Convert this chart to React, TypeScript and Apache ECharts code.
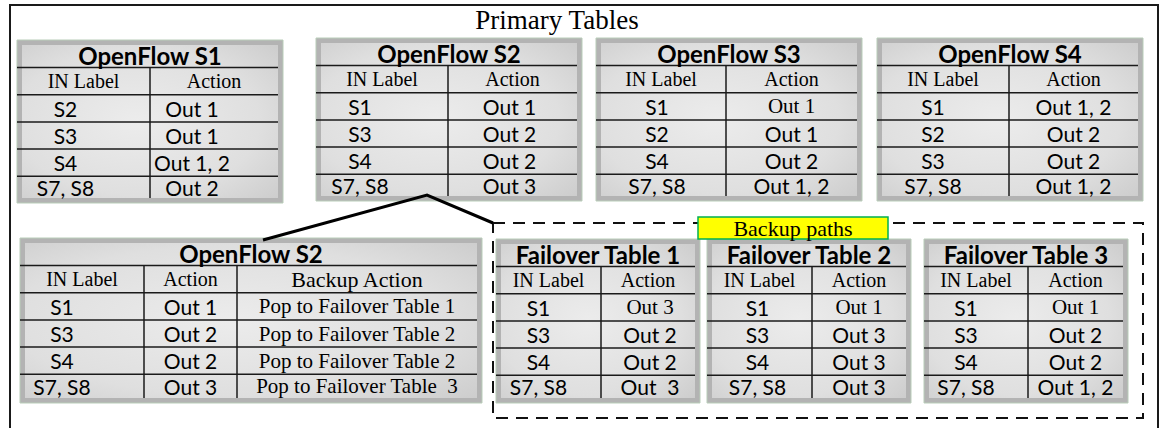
import React, { useEffect, useRef } from "react";
import * as echarts from "echarts";

// ---------- data ----------
const primaryTitle = "Primary Tables";
const backupTitle = "Backup paths";
const headerIn = "IN Label";
const headerAction = "Action";
const headerBackup = "Backup Action";

const s1Title = "OpenFlow S1";
const s1Labels = ["S2", "S3", "S4", "S7, S8"];
const s1Actions = ["Out 1", "Out 1", "Out 1, 2", "Out 2"];

const s2Title = "OpenFlow S2";
const s2Labels = ["S1", "S3", "S4", "S7, S8"];
const s2Actions = ["Out 1", "Out 2", "Out 2", "Out 3"];
const s2Backup = [
  "Pop to Failover Table 1",
  "Pop to Failover Table 2",
  "Pop to Failover Table 2",
  "Pop to Failover Table  3",
];

const s3Title = "OpenFlow S3";
const s3Labels = ["S1", "S2", "S4", "S7, S8"];
const s3Actions = ["Out 1", "Out 1", "Out 2", "Out 1, 2"];

const s4Title = "OpenFlow S4";
const s4Labels = ["S1", "S2", "S3", "S7, S8"];
const s4Actions = ["Out 1, 2", "Out 2", "Out 2", "Out 1, 2"];

const f1Title = "Failover Table 1";
const f1Labels = ["S1", "S3", "S4", "S7, S8"];
const f1Actions = ["Out 3", "Out 2", "Out 2", "Out  3"];

const f2Title = "Failover Table 2";
const f2Labels = ["S1", "S3", "S4", "S7, S8"];
const f2Actions = ["Out 1", "Out 3", "Out 3", "Out 3"];

const f3Title = "Failover Table 3";
const f3Labels = ["S1", "S3", "S4", "S7, S8"];
const f3Actions = ["Out 1", "Out 2", "Out 2", "Out 1, 2"];

// cells whose action text is set in a serif face ("table:row")
const serifActionCells = ["S3:0", "F1:0", "F2:0", "F3:0"];

// ---------- layout ----------
const SANS = "Lato";
const SERIF = "Liberation Serif";
const TITLE_H = 27.5;
const ROW_H = 27.2;

type TableDef = {
  id: string;
  x: number;
  y: number;
  w: number;
  h: number;
  splits: number[];
  title: string;
  headers: string[];
  cols: string[][];
  shift: number[];
};

const tables: TableDef[] = [
  { id: "S1", x: 17, y: 40, w: 266, h: 163, splits: [150], title: s1Title, headers: [headerIn, headerAction], cols: [s1Labels, s1Actions], shift: [-18, -22] },
  { id: "S2", x: 316, y: 38, w: 266, h: 163, splits: [448], title: s2Title, headers: [headerIn, headerAction], cols: [s2Labels, s2Actions], shift: [-22, -3] },
  { id: "S3", x: 596, y: 38, w: 266, h: 163, splits: [726], title: s3Title, headers: [headerIn, headerAction], cols: [s3Labels, s3Actions], shift: [-4, 0] },
  { id: "S4", x: 877, y: 38, w: 266, h: 163, splits: [1009], title: s4Title, headers: [headerIn, headerAction], cols: [s4Labels, s4Actions], shift: [-10, 0] },
  { id: "S2B", x: 20, y: 238, w: 462, h: 165, splits: [144, 237], title: s2Title, headers: [headerIn, headerAction, headerBackup], cols: [s2Labels, s2Actions, s2Backup], shift: [-20, 0, 0] },
  { id: "F1", x: 496, y: 239, w: 204, h: 164, splits: [601], title: f1Title, headers: [headerIn, headerAction], cols: [f1Labels, f1Actions], shift: [-10, 2] },
  { id: "F2", x: 707, y: 239, w: 204, h: 164, splits: [812], title: f2Title, headers: [headerIn, headerAction], cols: [f2Labels, f2Actions], shift: [-2, 0] },
  { id: "F3", x: 924, y: 239, w: 204, h: 164, splits: [1028], title: f3Title, headers: [headerIn, headerAction], cols: [f3Labels, f3Actions], shift: [-10, 0] },
];

function txt(x: number, y: number, text: string, size: number, family: string, weight: string = "normal", z = 20): any {
  return {
    type: "text",
    x,
    y,
    z,
    silent: true,
    style: {
      text,
      fill: "#000",
      fontSize: size,
      fontFamily: family,
      fontWeight: weight,
      align: "center",
      verticalAlign: "middle",
    },
  };
}

function buildTable(t: TableDef): any[] {
  const els: any[] = [];
  const x1 = t.x + t.w;
  const y1 = t.y + t.h;
  const B = 5;
  els.push({
    type: "rect",
    z: 10,
    shape: { x: t.x, y: t.y, width: t.w, height: t.h },
    style: { fill: "#b3b3b3", stroke: "#b9cdb9", lineWidth: 1 },
  });
  els.push({
    type: "rect",
    z: 11,
    shape: { x: t.x + B, y: t.y + B, width: t.w - 2 * B, height: t.h - 2 * B },
    style: {
      fill: {
        type: "radial",
        x: 0.45,
        y: 0.5,
        r: 0.8,
        colorStops: [
          { offset: 0, color: "#ececec" },
          { offset: 0.6, color: "#dfdfdf" },
          { offset: 1, color: "#c9c9c9" },
        ],
      },
    },
  });
  const lineYs: number[] = [];
  for (let k = 0; k < 5; k++) lineYs.push(t.y + TITLE_H + k * ROW_H);
  lineYs.forEach((ly) => {
    els.push({
      type: "line",
      z: 15,
      shape: { x1: t.x, y1: ly, x2: x1 - B, y2: ly },
      style: { stroke: "#1a1a1a", lineWidth: 1.5 },
    });
  });
  t.splits.forEach((sx) => {
    els.push({
      type: "line",
      z: 15,
      shape: { x1: sx, y1: lineYs[0], x2: sx, y2: y1 - B },
      style: { stroke: "#1a1a1a", lineWidth: 1.5 },
    });
  });
  els.push(txt((t.x + x1) / 2, t.y + TITLE_H / 2 + 1.5, t.title, 24, SANS, "bold"));
  const bounds = [t.x, ...t.splits, x1 - B];
  const headerY = (lineYs[0] + lineYs[1]) / 2;
  t.headers.forEach((h, c) => {
    const cx = (bounds[c] + bounds[c + 1]) / 2;
    const size = h === headerBackup ? 22 : 20;
    els.push(txt(cx, headerY, h, size, SERIF));
  });
  t.cols.forEach((col, c) => {
    const cx = (bounds[c] + bounds[c + 1]) / 2 + (t.shift[c] || 0);
    col.forEach((v, r) => {
      const top = lineYs[r + 1];
      const bottom = r < 3 ? lineYs[r + 2] : y1 - B;
      const cy = (top + bottom) / 2;
      const isBackup = t.cols.length === 3 && c === 2;
      const serif = isBackup || (c === 1 && serifActionCells.includes(t.id + ":" + r));
      els.push(txt(cx, cy, v, serif ? 21 : 21, serif ? SERIF : SANS));
    });
  });
  return els;
}

export default function App() {
  const ref = useRef<HTMLDivElement>(null);
  useEffect(() => {
    document.body.style.margin = "0";
    if (!ref.current) return;
    const chart = echarts.init(ref.current, undefined, { renderer: "svg" });
    const elements: any[] = [];
    elements.push({
      type: "rect",
      z: 1,
      shape: { x: 10, y: 5, width: 1148, height: 440 },
      style: { fill: "none", stroke: "#1a1a1a", lineWidth: 2 },
    });
    elements.push(txt(557, 20, primaryTitle, 27, SERIF));
    elements.push({
      type: "rect",
      z: 2,
      shape: { x: 493, y: 223, width: 650, height: 195 },
      style: { fill: "none", stroke: "#111", lineWidth: 2, lineDash: [12, 8] },
    });
    tables.forEach((t) => elements.push(...buildTable(t)));
    elements.push({
      type: "polyline",
      z: 30,
      shape: { points: [[263, 240], [427, 195], [493, 223]] },
      style: { stroke: "#000", lineWidth: 3, fill: "none" },
    });
    elements.push({
      type: "rect",
      z: 30,
      shape: { x: 698, y: 217, width: 190, height: 22 },
      style: { fill: "#ffff00", stroke: "#00b050", lineWidth: 1.5 },
    });
    elements.push(txt(793, 228.5, backupTitle, 22, SERIF, "normal", 31));

    chart.setOption({
      animation: false,
      graphic: { elements },
    });
    return () => chart.dispose();
  }, []);
  return <div ref={ref} style={{ width: 1160, height: 428, background: "#fff" }} />;
}
